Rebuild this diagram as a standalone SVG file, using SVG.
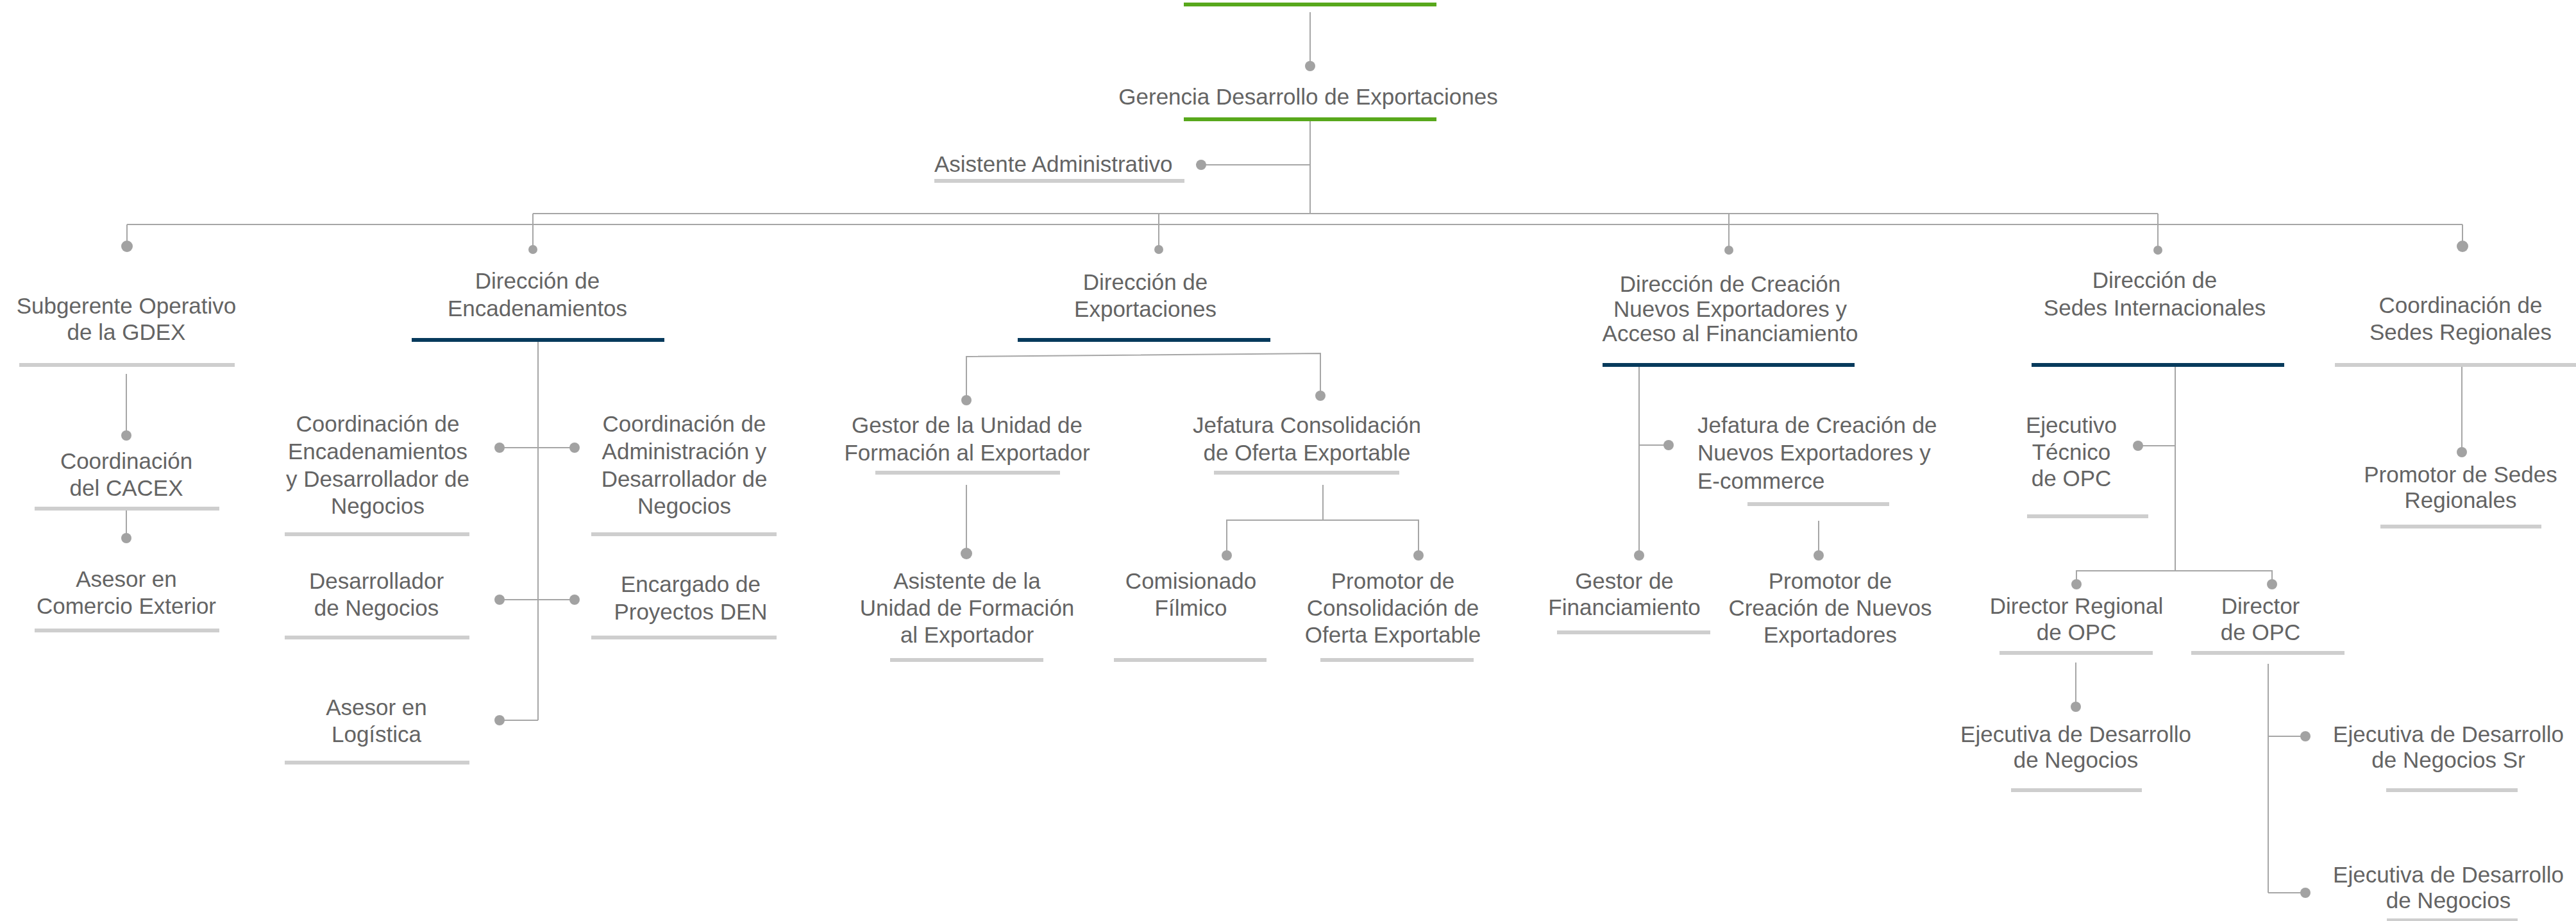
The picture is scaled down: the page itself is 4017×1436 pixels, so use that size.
<svg xmlns="http://www.w3.org/2000/svg" width="4017" height="1436" viewBox="0 0 4017 1436">
<style>
text{font-family:"Liberation Sans",Arial,sans-serif;font-size:35px;fill:#646464;text-anchor:middle}
.ls{text-anchor:start}
.g{fill:#58a81c}
.d{fill:#073a5c}
.l{fill:#cecece}
.ln{stroke:#a6a6a6;stroke-width:2;fill:none}
.dt{fill:#a2a2a2}
</style>
<rect width="4017" height="1436" fill="#fff"/>
<g id="connectors">
<path class="ln" d="M2043 19V103M2043 189V333M1873 257H2043M831 333H3365M198 350H3840M198 350V384M831 333V389M1807 333V389M2696 333V390M3365 333V390M3840 350V384"/>
<path class="ln" d="M197 583V679M197 793V839"/>
<path class="ln" d="M839 533V1123M779 698H896M779 935H896M779 1123H839"/>
<path class="ln" d="M1507 624V556L2059 551V617M1507 756V863M2063 756V811M1913 866V811H2212V866"/>
<path class="ln" d="M2556 572V866M2556 694H2602M2836 812V866"/>
<path class="ln" d="M3392 572V890M3334 695H3392M3238 911V890H3543V911M3237 1033V1102M3537 1035V1392M3537 1148H3595M3537 1392H3595M3839 572V705"/>
<g class="dt">
<circle cx="2043" cy="103" r="8"/><circle cx="1873" cy="257" r="8"/>
<circle cx="198" cy="384" r="9"/><circle cx="831" cy="389" r="7"/><circle cx="1807" cy="389" r="7"/><circle cx="2696" cy="390" r="7"/><circle cx="3365" cy="390" r="7"/><circle cx="3840" cy="384" r="9"/>
<circle cx="197" cy="679" r="8"/><circle cx="197" cy="839" r="8"/>
<circle cx="779" cy="698" r="8"/><circle cx="896" cy="698" r="8"/><circle cx="779" cy="935" r="8"/><circle cx="896" cy="935" r="8"/><circle cx="779" cy="1123" r="8"/>
<circle cx="1507" cy="624" r="8"/><circle cx="2059" cy="617" r="8"/><circle cx="1507" cy="863" r="9"/><circle cx="1913" cy="866" r="8"/><circle cx="2212" cy="866" r="8"/>
<circle cx="2602" cy="694" r="8"/><circle cx="2556" cy="866" r="8"/><circle cx="2836" cy="866" r="8"/>
<circle cx="3334" cy="695" r="8"/><circle cx="3238" cy="911" r="8"/><circle cx="3543" cy="911" r="8"/><circle cx="3237" cy="1102" r="8"/><circle cx="3595" cy="1148" r="8"/><circle cx="3595" cy="1392" r="8"/><circle cx="3839" cy="705" r="8"/>
</g>
</g>
<g id="top"><rect class="g" x="1846" y="4" width="394" height="6"/></g>
<g id="gerencia"><text x="2040" y="163">Gerencia Desarrollo de Exportaciones</text><rect class="g" x="1846" y="183" width="394" height="6"/></g>
<g id="asistente-admin"><text class="ls" x="1457" y="268">Asistente Administrativo</text><rect class="l" x="1457" y="279" width="390" height="6"/></g>
<g id="subgerente"><text x="197" y="489">Subgerente Operativo</text><text x="197" y="530">de la GDEX</text><rect class="l" x="30" y="566" width="336" height="6"/></g>
<g id="cacex"><text x="197" y="731">Coordinación</text><text x="197" y="773">del CACEX</text><rect class="l" x="54" y="790" width="288" height="6"/></g>
<g id="asesor-comercio"><text x="197" y="915">Asesor en</text><text x="197" y="957">Comercio Exterior</text><rect class="l" x="54" y="980" width="288" height="6"/></g>
<g id="dir-encadenamientos"><text x="838" y="450">Dirección de</text><text x="838" y="493">Encadenamientos</text><rect class="d" x="642" y="527" width="394" height="6"/></g>
<g id="coord-encadenamientos"><text x="589" y="673">Coordinación de</text><text x="589" y="716">Encadenamientos</text><text x="589" y="759">y Desarrollador de</text><text x="589" y="801">Negocios</text><rect class="l" x="444" y="830" width="288" height="6"/></g>
<g id="coord-administracion"><text x="1067" y="673">Coordinación de</text><text x="1067" y="716">Administración y</text><text x="1067" y="759">Desarrollador de</text><text x="1067" y="801">Negocios</text><rect class="l" x="922" y="830" width="289" height="6"/></g>
<g id="desarrollador"><text x="587" y="918">Desarrollador</text><text x="587" y="960">de Negocios</text><rect class="l" x="444" y="991" width="288" height="6"/></g>
<g id="encargado"><text x="1077" y="923">Encargado de</text><text x="1077" y="966">Proyectos DEN</text><rect class="l" x="922" y="991" width="289" height="6"/></g>
<g id="asesor-logistica"><text x="587" y="1115">Asesor en</text><text x="587" y="1157">Logística</text><rect class="l" x="444" y="1186" width="288" height="6"/></g>
<g id="dir-exportaciones"><text x="1786" y="452">Dirección de</text><text x="1786" y="494">Exportaciones</text><rect class="d" x="1587" y="527" width="394" height="6"/></g>
<g id="gestor-unidad"><text x="1508" y="675">Gestor de la Unidad de</text><text x="1508" y="718">Formación al Exportador</text><rect class="l" x="1365" y="734" width="288" height="6"/></g>
<g id="jefatura-consolidacion"><text x="2038" y="675">Jefatura Consolidación</text><text x="2038" y="718">de Oferta Exportable</text><rect class="l" x="1893" y="734" width="289" height="6"/></g>
<g id="asistente-unidad"><text x="1508" y="918">Asistente de la</text><text x="1508" y="960">Unidad de Formación</text><text x="1508" y="1002">al Exportador</text><rect class="l" x="1388" y="1026" width="239" height="6"/></g>
<g id="comisionado"><text x="1857" y="918">Comisionado</text><text x="1857" y="960">Fílmico</text><rect class="l" x="1737" y="1026" width="238" height="6"/></g>
<g id="promotor-consolidacion"><text x="2172" y="918">Promotor de</text><text x="2172" y="960">Consolidación de</text><text x="2172" y="1002">Oferta Exportable</text><rect class="l" x="2059" y="1026" width="239" height="6"/></g>
<g id="dir-creacion"><text x="2698" y="455">Dirección de Creación</text><text x="2698" y="494">Nuevos Exportadores y</text><text x="2698" y="532">Acceso al Financiamiento</text><rect class="d" x="2499" y="566" width="393" height="6"/></g>
<g id="jefatura-creacion"><text class="ls" x="2647" y="675">Jefatura de Creación de</text><text class="ls" x="2647" y="718">Nuevos Exportadores y</text><text class="ls" x="2647" y="762">E-commerce</text><rect class="l" x="2725" y="783" width="221" height="6"/></g>
<g id="gestor-financiamiento"><text x="2533" y="918">Gestor de</text><text x="2533" y="959">Financiamiento</text><rect class="l" x="2428" y="983" width="239" height="6"/></g>
<g id="promotor-creacion"><text x="2854" y="918">Promotor de</text><text x="2854" y="960">Creación de Nuevos</text><text x="2854" y="1002">Exportadores</text></g>
<g id="dir-sedes-int"><text x="3360" y="449">Dirección de</text><text x="3360" y="492">Sedes Internacionales</text><rect class="d" x="3168" y="566" width="394" height="6"/></g>
<g id="ejecutivo-tecnico"><text x="3230" y="675">Ejecutivo</text><text x="3230" y="717">Técnico</text><text x="3230" y="758">de OPC</text><rect class="l" x="3161" y="802" width="189" height="6"/></g>
<g id="director-regional"><text x="3238" y="957">Director Regional</text><text x="3238" y="998">de OPC</text><rect class="l" x="3118" y="1015" width="239" height="6"/></g>
<g id="director-opc"><text x="3525" y="957">Director</text><text x="3525" y="998">de OPC</text><rect class="l" x="3417" y="1015" width="239" height="6"/></g>
<g id="ejecutiva-dn"><text x="3237" y="1157">Ejecutiva de Desarrollo</text><text x="3237" y="1197">de Negocios</text><rect class="l" x="3136" y="1229" width="204" height="6"/></g>
<g id="ejecutiva-sr"><text x="3818" y="1157">Ejecutiva de Desarrollo</text><text x="3818" y="1197">de Negocios Sr</text><rect class="l" x="3721" y="1229" width="205" height="6"/></g>
<g id="ejecutiva-dn2"><text x="3818" y="1376">Ejecutiva de Desarrollo</text><text x="3818" y="1416">de Negocios</text><rect class="l" x="3722" y="1432" width="204" height="6"/></g>
<g id="coord-sedes-reg"><text x="3837" y="488">Coordinación de</text><text x="3837" y="530">Sedes Regionales</text><rect class="l" x="3641" y="566" width="376" height="6"/></g>
<g id="promotor-sedes"><text x="3837" y="752">Promotor de Sedes</text><text x="3837" y="792">Regionales</text><rect class="l" x="3712" y="818" width="251" height="6"/></g>
</svg>
